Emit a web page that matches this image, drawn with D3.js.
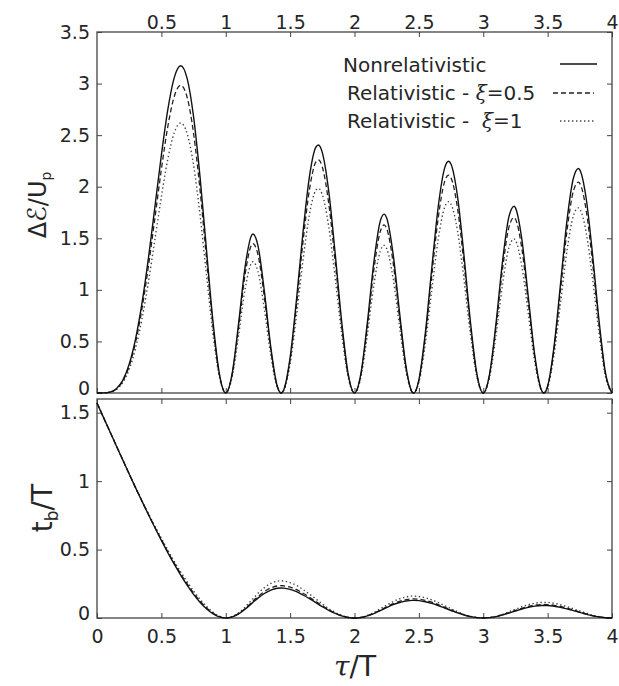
<!DOCTYPE html>
<html><head><meta charset="utf-8">
<script src="https://cdn.jsdelivr.net/npm/d3@7"></script>
<style>body{margin:0;background:#fff}svg{display:block}</style>
</head><body><svg id="c" width="619" height="686"></svg>
<script>
// excursion time tau/T
const tau = [
 0,0.05,0.1,0.15,0.2,0.25,0.3,0.35,0.4,0.45,0.5,0.55,0.6,0.65,0.7,0.75,0.8,0.85,0.9,0.95,
 1,1.05,1.1,1.15,1.2,1.21,1.25,1.3,1.35,1.4,1.43,1.45,1.5,1.55,1.6,1.65,1.7,1.72,1.75,1.8,1.85,1.9,1.95,
 2,2.05,2.1,2.15,2.2,2.23,2.25,2.3,2.35,2.4,2.45,2.46,2.5,2.55,2.6,2.65,2.7,2.73,2.75,2.8,2.85,2.9,2.95,
 3,3.05,3.1,3.15,3.2,3.24,3.25,3.3,3.35,3.4,3.45,3.47,3.5,3.55,3.6,3.65,3.7,3.74,3.75,3.8,3.85,3.9,3.95,4];

// top panel: Delta E / U_p
const energyNonrel = [
 0,0.001,0.008,0.041,0.122,0.278,0.527,0.876,1.313,1.807,2.307,2.748,3.058,3.173,3.050,2.679,2.098,1.394,0.704,0.191,
 0,0.191,0.677,1.220,1.527,1.541,1.429,0.986,0.443,0.068,0,0.029,0.345,0.912,1.558,2.098,2.383,2.404,2.331,1.954,1.352,0.698,0.191,
 0,0.191,0.684,1.265,1.666,1.734,1.697,1.346,0.780,0.258,0.006,0,0.128,0.580,1.207,1.803,2.180,2.247,2.218,1.906,1.338,0.695,0.191,
 0,0.191,0.686,1.280,1.713,1.811,1.795,1.488,0.931,0.367,0.034,0,0.066,0.452,1.056,1.668,2.082,2.176,2.163,1.881,1.331,0.694,0.191,0];
const energyXi05 = [
 0,0.001,0.008,0.038,0.115,0.261,0.495,0.823,1.234,1.699,2.169,2.583,2.875,2.983,2.867,2.518,1.972,1.310,0.662,0.180,
 0,0.180,0.636,1.147,1.435,1.449,1.343,0.927,0.416,0.064,0,0.027,0.324,0.857,1.465,1.972,2.240,2.260,2.191,1.837,1.271,0.656,0.180,
 0,0.180,0.643,1.189,1.566,1.630,1.595,1.265,0.733,0.243,0.006,0,0.120,0.545,1.135,1.695,2.049,2.112,2.085,1.792,1.258,0.653,0.180,
 0,0.180,0.645,1.203,1.610,1.702,1.687,1.399,0.875,0.345,0.032,0,0.062,0.425,0.993,1.568,1.957,2.045,2.033,1.768,1.251,0.652,0.180,0];
const energyXi1 = [
 0,0,0.007,0.034,0.101,0.229,0.435,0.723,1.083,1.491,1.903,2.267,2.523,2.618,2.516,2.210,1.731,1.150,0.581,0.158,
 0,0.158,0.559,1.007,1.260,1.272,1.179,0.813,0.365,0.056,0,0.024,0.284,0.752,1.285,1.731,1.966,1.983,1.923,1.612,1.115,0.576,0.158,
 0,0.158,0.564,1.044,1.374,1.431,1.400,1.110,0.644,0.213,0.005,0,0.106,0.478,0.996,1.487,1.799,1.854,1.830,1.572,1.104,0.573,0.158,
 0,0.158,0.566,1.056,1.413,1.494,1.481,1.228,0.768,0.303,0.028,0,0.054,0.373,0.871,1.376,1.718,1.795,1.784,1.552,1.098,0.573,0.158,0];

// bottom panel: t_b / T
const birthNonrel = [
 1.571,1.466,1.362,1.258,1.155,1.052,0.951,0.852,0.754,0.659,0.567,0.478,0.393,0.314,0.240,0.173,0.115,0.067,0.031,0.008,
 0,0.008,0.030,0.064,0.105,0.113,0.145,0.179,0.204,0.217,0.219,0.218,0.209,0.192,0.168,0.141,0.112,0.100,0.083,0.056,0.033,0.015,0.004,
 0,0.004,0.015,0.032,0.054,0.067,0.076,0.097,0.113,0.124,0.129,0.129,0.127,0.119,0.107,0.091,0.073,0.062,0.055,0.037,0.022,0.010,0.003,
 0,0.003,0.010,0.022,0.036,0.048,0.051,0.066,0.078,0.087,0.091,0.091,0.091,0.086,0.078,0.067,0.054,0.043,0.041,0.028,0.016,0.008,0.002,0];
const birthXi05 = [
 1.571,1.466,1.362,1.258,1.155,1.052,0.951,0.852,0.756,0.662,0.572,0.484,0.401,0.323,0.250,0.183,0.125,0.076,0.037,0.011,
 0,0.009,0.032,0.069,0.113,0.122,0.157,0.193,0.220,0.234,0.237,0.235,0.226,0.207,0.181,0.152,0.121,0.108,0.090,0.060,0.036,0.016,0.004,
 0,0.004,0.016,0.035,0.058,0.072,0.082,0.105,0.122,0.134,0.139,0.139,0.137,0.129,0.116,0.098,0.079,0.067,0.059,0.040,0.024,0.011,0.003,
 0,0.003,0.011,0.024,0.039,0.052,0.055,0.071,0.084,0.094,0.098,0.098,0.098,0.093,0.084,0.072,0.058,0.046,0.044,0.030,0.017,0.009,0.002,0];
const birthXi1 = [
 1.571,1.466,1.362,1.258,1.155,1.052,0.951,0.855,0.762,0.670,0.582,0.496,0.413,0.337,0.265,0.197,0.137,0.085,0.043,0.013,
 0,0.010,0.037,0.079,0.130,0.140,0.180,0.222,0.253,0.269,0.272,0.270,0.259,0.238,0.208,0.175,0.139,0.124,0.103,0.069,0.041,0.019,0.005,
 0,0.005,0.019,0.040,0.067,0.083,0.094,0.120,0.140,0.154,0.160,0.160,0.157,0.148,0.133,0.113,0.091,0.077,0.068,0.046,0.027,0.012,0.004,
 0,0.004,0.012,0.027,0.045,0.060,0.063,0.082,0.097,0.108,0.113,0.113,0.113,0.107,0.097,0.083,0.067,0.053,0.051,0.035,0.020,0.010,0.002,0];

const xTicksTop = [0.5,1,1.5,2,2.5,3,3.5,4];
const xTicksBottom = [0,0.5,1,1.5,2,2.5,3,3.5,4];
const yTicksTop = [0,0.5,1,1.5,2,2.5,3,3.5];
const yTicksBottom = [0,0.5,1,1.5];
const legendLabels = ["Nonrelativistic","Relativistic - ","Relativistic -  "];
const legendXi = [null,"0.5","1"];

const svg = d3.select('#c');
const FONT = "'DejaVu Sans', sans-serif";
const x = d3.scaleLinear().domain([0,4]).range([97,612]);
const yTop = d3.scaleLinear().domain([0,3.5]).range([393,32]);
const yBot = d3.scaleLinear().domain([0,1.6]).range([618,399]);

const styles = [
  {stroke:'#111', width:1.4, dash:null},
  {stroke:'#222', width:1.3, dash:'5,3'},
  {stroke:'#444', width:1.4, dash:'1.4,2.6'}
];

function axis(gen, tr, labels, raiseZero){
  const g = svg.append('g').attr('transform', tr).call(gen);
  g.select('.domain').remove();
  g.selectAll('.tick line').attr('stroke','#444').attr('stroke-width',1);
  g.selectAll('text').attr('font-family',FONT).attr('font-size',19).attr('fill','#262626');
  if(!labels) g.selectAll('text').remove();
  if(raiseZero) g.selectAll('.tick').filter(d=>d===0).select('text').attr('y',-5);
  return g;
}
const fmt = d => d3.format('~g')(d);
// top panel axes
axis(d3.axisLeft(yTop).tickValues(yTicksTop).tickSizeInner(-5).tickSizeOuter(0).tickPadding(7).tickFormat(fmt),'translate(97,0)',true,true);
axis(d3.axisRight(yTop).tickValues(yTicksTop).tickSizeInner(-5).tickSizeOuter(0),'translate(612,0)',false);
axis(d3.axisTop(x).tickValues(xTicksTop).tickSizeInner(-5).tickSizeOuter(0).tickPadding(3).tickFormat(fmt),'translate(0,32)',true);
axis(d3.axisBottom(x).tickValues(xTicksBottom).tickSizeInner(-5).tickSizeOuter(0),'translate(0,393)',false);
// bottom panel axes
axis(d3.axisLeft(yBot).tickValues(yTicksBottom).tickSizeInner(-5).tickSizeOuter(0).tickPadding(7).tickFormat(fmt),'translate(97,0)',true,true);
axis(d3.axisRight(yBot).tickValues(yTicksBottom).tickSizeInner(-5).tickSizeOuter(0),'translate(612,0)',false);
axis(d3.axisTop(x).tickValues(xTicksBottom).tickSizeInner(-5).tickSizeOuter(0),'translate(0,399)',false);
axis(d3.axisBottom(x).tickValues(xTicksBottom).tickSizeInner(-5).tickSizeOuter(0).tickPadding(12).tickFormat(fmt),'translate(0,618)',true);

// frames
[yTop, yBot].forEach(ys=>{
  const [y0,y1] = ys.range();
  svg.append('rect').attr('x',x(0)).attr('y',y1).attr('width',x(4)-x(0)).attr('height',y0-y1)
    .attr('fill','none').attr('stroke','#444').attr('stroke-width',1.3);
});

function drawSeries(vals, ys, st){
  const line = d3.line().x((d,i)=>x(tau[i])).y(d=>ys(d)).curve(d3.curveMonotoneX);
  const p = svg.append('path').attr('d', line(vals)).attr('fill','none')
    .attr('stroke',st.stroke).attr('stroke-width',st.width).attr('stroke-linejoin','round');
  if(st.dash) p.attr('stroke-dasharray',st.dash);
}
drawSeries(energyXi1, yTop, styles[2]);
drawSeries(energyXi05, yTop, styles[1]);
drawSeries(energyNonrel, yTop, styles[0]);
drawSeries(birthXi1, yBot, styles[2]);
drawSeries(birthXi05, yBot, styles[1]);
drawSeries(birthNonrel, yBot, styles[0]);

// legend
const legRows = [
  {tx:343, ty:72, lx0:560, lx1:597, ly:64},
  {tx:347, ty:100, lx0:553, lx1:594, ly:93},
  {tx:347, ty:128, lx0:560, lx1:594, ly:121}
];
legRows.forEach((r,i)=>{
  const t = svg.append('text').attr('x',r.tx).attr('y',r.ty).attr('font-family',FONT).attr('font-size',20).attr('fill','#262626')
    .attr('xml:space','preserve').style('white-space','pre');
  t.append('tspan').text(legendLabels[i]);
  if(legendXi[i]!==null){
    t.append('tspan').attr('font-family',"'DejaVu Serif', serif").attr('font-style','italic').text('ξ');
    t.append('tspan').attr('font-family',"'DejaVu Serif', serif").text('=');
    t.append('tspan').text(legendXi[i]);
  }
  const st = styles[i];
  const l = svg.append('line').attr('x1',r.lx0).attr('x2',r.lx1).attr('y1',r.ly).attr('y2',r.ly)
    .attr('stroke',st.stroke).attr('stroke-width',st.width);
  if(st.dash) l.attr('stroke-dasharray',st.dash);
});

// axis titles
const yt = svg.append('text').attr('transform','translate(46,205) rotate(-90)').attr('text-anchor','middle')
  .attr('font-family',FONT).attr('font-size',24).attr('fill','#262626');
yt.append('tspan').text('Δ');
yt.append('tspan').attr('font-family',"'DejaVu Sans', sans-serif").attr('font-size',26).text('ℰ');
yt.append('tspan').text('/U');
yt.append('tspan').attr('font-size',14).attr('dy',5).text('p');

const yb = svg.append('text').attr('transform','translate(52,508) rotate(-90)').attr('text-anchor','middle')
  .attr('font-family',FONT).attr('font-size',28).attr('fill','#262626');
yb.append('tspan').text('t');
yb.append('tspan').attr('font-size',17).attr('dy',6).text('b');
yb.append('tspan').attr('dy',-6).text('/T');

const xt = svg.append('text').attr('x',355).attr('y',676).attr('text-anchor','middle')
  .attr('font-family',FONT).attr('font-size',28).attr('fill','#262626');
xt.append('tspan').attr('font-family',"'DejaVu Serif', serif").attr('font-style','italic').text('τ');
xt.append('tspan').text('/T');
</script></body></html>
